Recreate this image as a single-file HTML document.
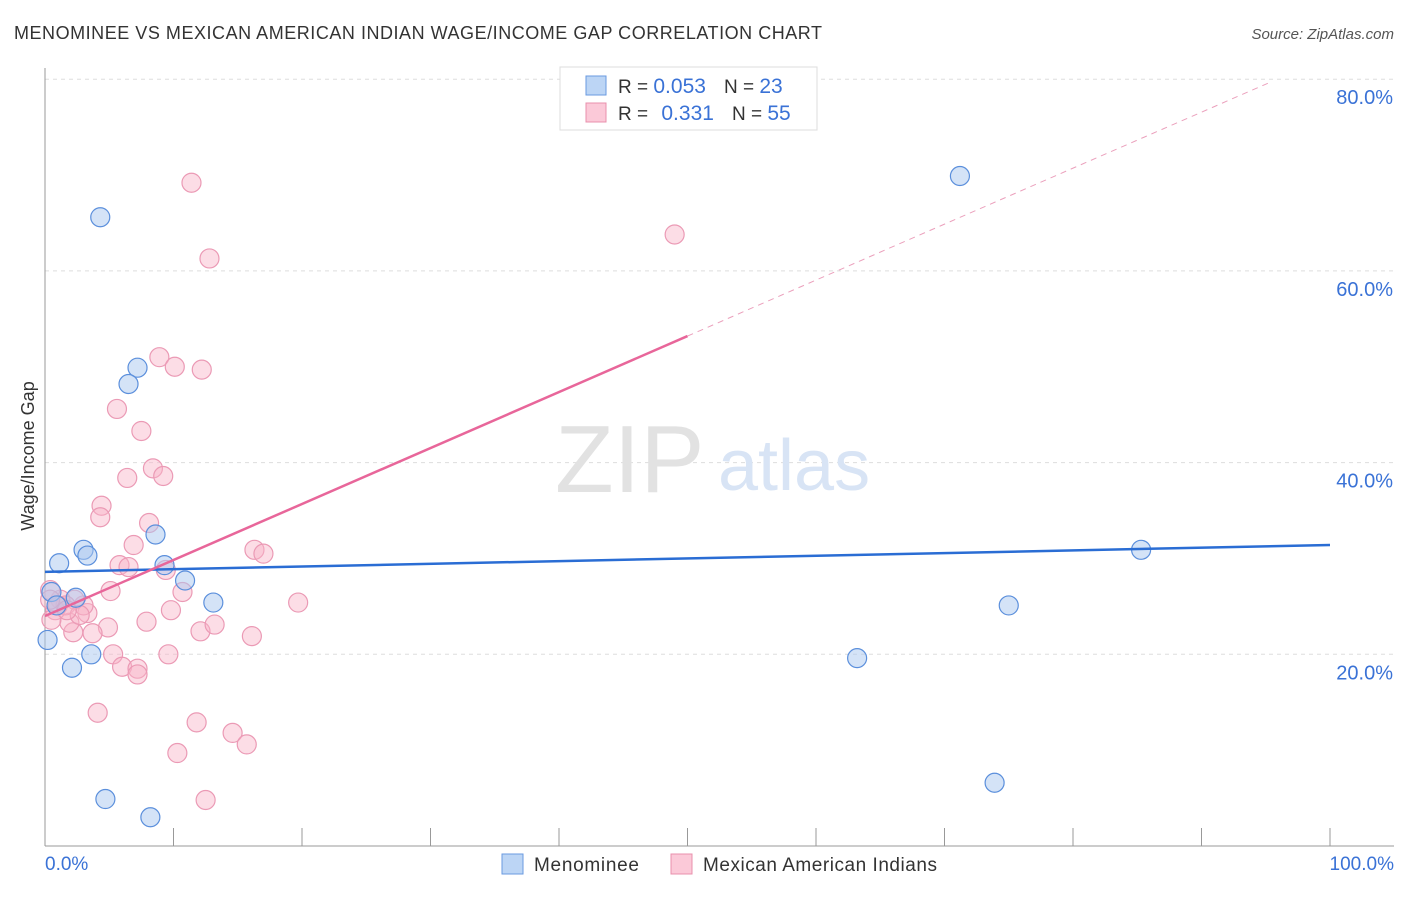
<!DOCTYPE html>
<html><head><meta charset="utf-8"><style>
body{margin:0;background:#fff;font-family:"Liberation Sans",sans-serif}
svg text{font-family:"Liberation Sans",sans-serif}
</style></head><body>
<svg width="1406" height="892" xmlns="http://www.w3.org/2000/svg">
<text x="14" y="39" font-size="18" fill="#333" textLength="808" lengthAdjust="spacing">MENOMINEE VS MEXICAN AMERICAN INDIAN WAGE/INCOME GAP CORRELATION CHART</text>
<text x="1394" y="39" font-size="15" fill="#555" text-anchor="end" font-style="italic">Source: ZipAtlas.com</text>
<g id="grid"></g>
<line x1="45" y1="68" x2="45" y2="846" stroke="#999"/>
<line x1="45" y1="846" x2="1394" y2="846" stroke="#999"/>
<text x="0" y="0" transform="translate(34,456) rotate(-90)" text-anchor="middle" font-size="18" fill="#333">Wage/Income Gap</text>
<text x="45" y="870" font-size="19" fill="#3a72d6">0.0%</text>
<text x="1394" y="870" font-size="19" fill="#3a72d6" text-anchor="end">100.0%</text>
<text x="555" y="492" font-size="96" fill="#e2e2e2" font-family="Liberation Serif">ZIP</text>
<text x="718" y="490" font-size="72" fill="#d8e4f5">atlas</text>
<g id="marks"></g>
<g>
<rect x="560" y="67" width="257" height="63" fill="#fff" stroke="#ddd"/>
<rect x="586" y="76" width="20" height="19" fill="#bcd5f5" stroke="#6a9ae0"/>
<rect x="586" y="103" width="20" height="19" fill="#fbc9d8" stroke="#e890ac"/>
<text x="618" y="93" font-size="19" fill="#333">R = <tspan fill="#3a72d6" font-size="21">0.053</tspan><tspan dx="18">N = </tspan><tspan fill="#3a72d6" font-size="21">23</tspan></text>
<text x="618" y="120" font-size="19" fill="#333">R = <tspan fill="#3a72d6" dx="8" font-size="21">0.331</tspan><tspan dx="18">N = </tspan><tspan fill="#3a72d6" font-size="21">55</tspan></text>
</g>
<g>
<rect x="502" y="854" width="21" height="20" fill="#bcd5f5" stroke="#6a9ae0"/>
<text x="534" y="871" font-size="19" fill="#333" textLength="105">Menominee</text>
<rect x="671" y="854" width="21" height="20" fill="#fbc9d8" stroke="#e890ac"/>
<text x="703" y="871" font-size="19" fill="#333" textLength="234">Mexican American Indians</text>
</g>
</svg>
<script>
const yTicks=[20,40,60,80];
const xTickCount=[0,10,20,30,40,50,60,70,80,90,100];
const blueX=[4.3,71.2,7.2,6.5,8.6,1.1,3.0,3.3,9.3,10.9,2.4,13.1,0.2,2.1,3.6,63.2,75.0,85.3,4.7,8.2,73.9,0.5,0.9];
const blueY=[65.6,69.9,49.9,48.2,32.5,29.5,30.9,30.3,29.3,27.7,25.9,25.4,21.5,18.6,20.0,19.6,25.1,30.9,4.9,3.0,6.6,26.5,25.1];
const pinkX=[11.4,12.8,49.0,8.9,10.1,12.2,5.6,7.5,6.4,8.4,9.2,4.4,4.3,8.1,6.9,5.8,6.5,16.3,17.0,9.4,10.7,5.1,9.8,7.9,12.1,13.2,16.1,19.7,4.9,3.7,2.2,1.9,3.3,3.0,2.3,1.2,0.8,0.4,0.5,5.3,9.6,6.0,7.2,7.2,4.1,11.8,10.3,14.6,15.7,12.5,1.6,2.7,1.0,0.4,1.7];
const pinkY=[69.2,61.3,63.8,51.0,50.0,49.7,45.6,43.3,38.4,39.4,38.6,35.5,34.3,33.7,31.4,29.3,29.1,30.9,30.5,28.8,26.5,26.6,24.6,23.4,22.4,23.1,21.9,25.4,22.8,22.2,22.3,23.3,24.3,25.1,25.7,25.7,24.6,26.7,23.6,20.0,20.0,18.7,18.5,17.9,13.9,12.9,9.7,11.8,10.6,4.8,25.1,24.1,25.1,25.7,24.6];
const blueLine=[28.6,31.4];
const pinkLine=[24.0,0.584];
const X0=45,X1=1330,Y0=846,PY=9.585;
const sx=v=>X0+(X1-X0)*v/100, sy=v=>Y0-v*PY;
const NS='http://www.w3.org/2000/svg';
function mk(t,a,p){const e=document.createElementNS(NS,t);for(const k in a)e.setAttribute(k,a[k]);p.appendChild(e);return e;}
const grid=document.getElementById('grid'),marks=document.getElementById('marks');
yTicks.forEach(v=>{
 const l=mk('line',{x1:45,x2:1394,y1:sy(v),y2:sy(v),stroke:'#ddd','stroke-dasharray':'4,4'},grid);
 
 
 const t=mk('text',{x:1393,y:sy(v)+25,'font-size':20,fill:'#3a72d6','text-anchor':'end'},grid);
 t.textContent=v.toFixed(1)+'%';
 
 
});
xTickCount.forEach(v=>{
 const l=mk('line',{x1:sx(v),x2:sx(v),y1:828,y2:846,stroke:'#999'},grid);
 
 
});
pinkX.forEach((x,i)=>{
 const c=mk('circle',{cx:sx(x),cy:sy(pinkY[i]),r:9.5,fill:'rgba(248,180,200,0.45)',stroke:'#eb9ab5','stroke-width':1.2},marks);
 
 
});
blueX.forEach((x,i)=>{
 const c=mk('circle',{cx:sx(x),cy:sy(blueY[i]),r:9.5,fill:'rgba(170,200,240,0.5)',stroke:'#5b8fdc','stroke-width':1.2},marks);
 
 
});
const bl=mk('line',{x1:sx(0),y1:sy(blueLine[0]),x2:sx(100),y2:sy(blueLine[1]),stroke:'#2a6dd4','stroke-width':2.5},marks);


const pl=mk('line',{x1:sx(0),y1:sy(pinkLine[0]),x2:sx(50),y2:sy(pinkLine[0]+50*pinkLine[1]),stroke:'#e8669a','stroke-width':2.5},marks);


const pd=mk('line',{x1:sx(50),y1:sy(pinkLine[0]+50*pinkLine[1]),x2:sx(95.3),y2:sy(pinkLine[0]+95.3*pinkLine[1]),stroke:'#eba0bc','stroke-width':1,'stroke-dasharray':'6,5'},marks);


</script>
</body></html>
